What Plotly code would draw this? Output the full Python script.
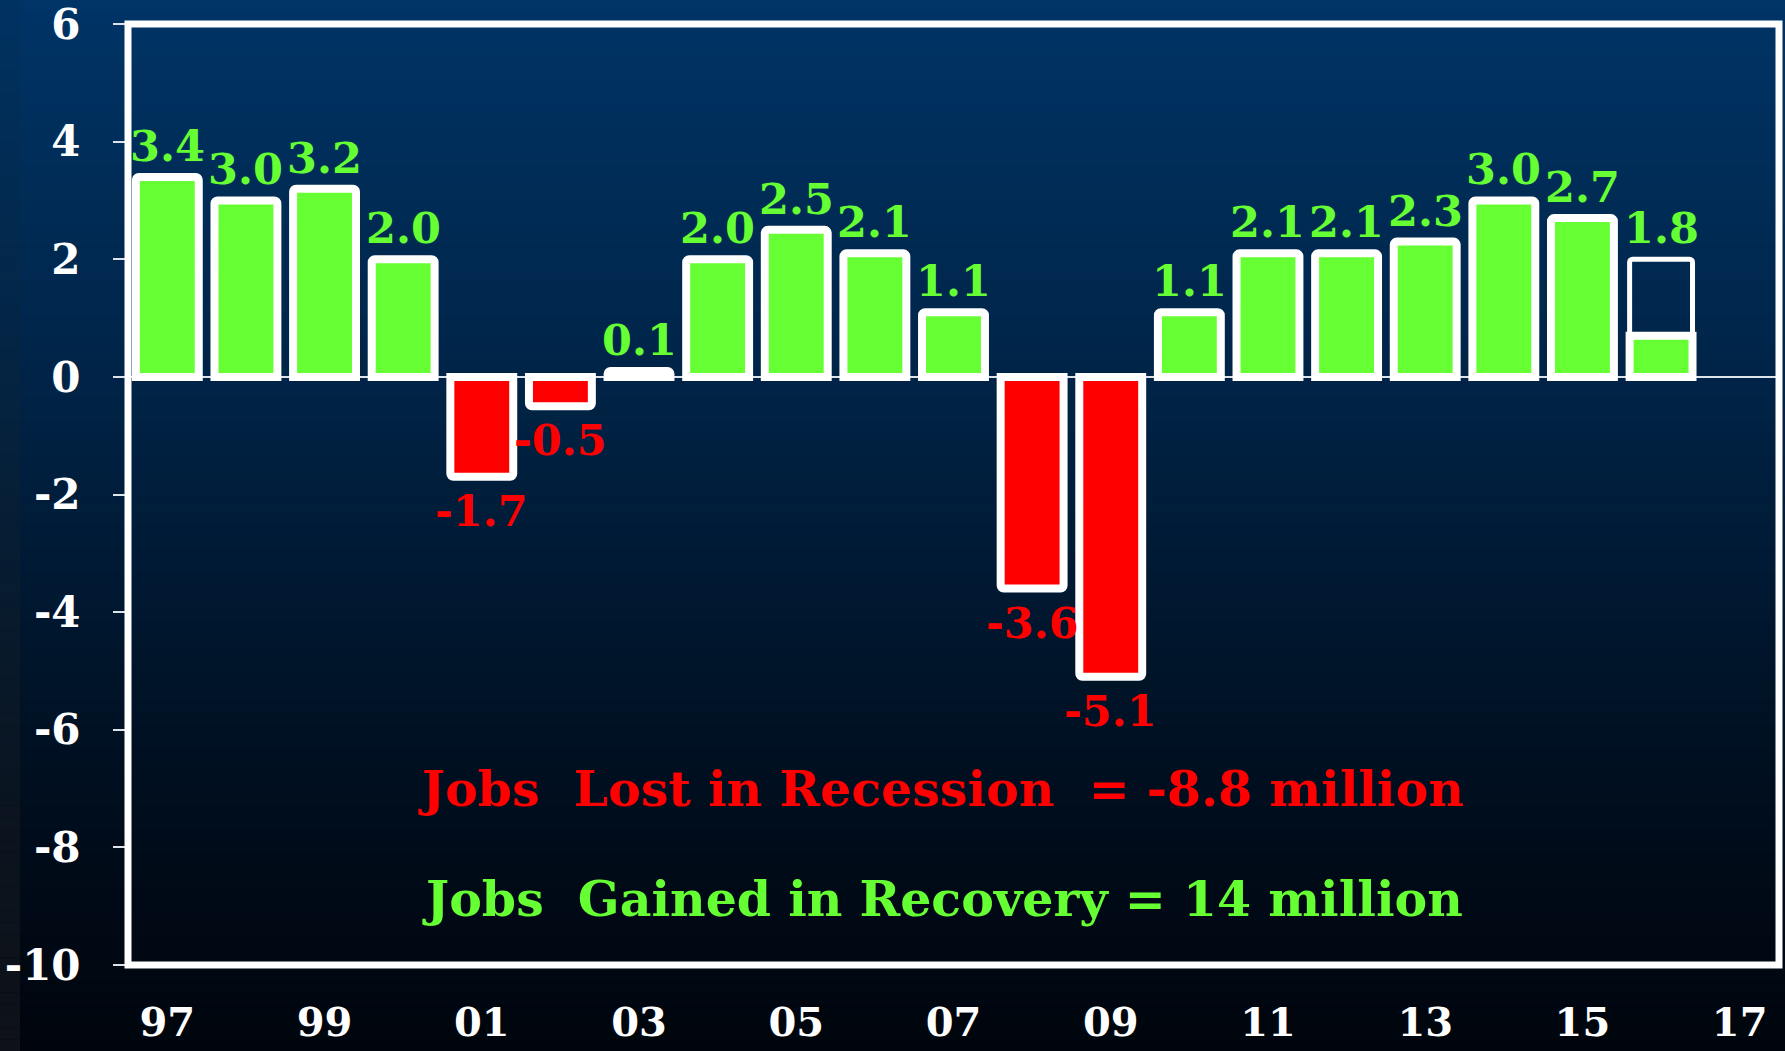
import plotly.graph_objects as go

# ---------------- data ----------------
years = list(range(1997, 2017))
job_change = [3.4, 3.0, 3.2, 2.0, -1.7, -0.5, 0.1, 2.0, 2.5, 2.1,
              1.1, -3.6, -5.1, 1.1, 2.1, 2.1, 2.3, 3.0, 2.7, 0.7]
value_labels = ["3.4", "3.0", "3.2", "2.0", "-1.7", "-0.5", "0.1", "2.0", "2.5", "2.1",
                "1.1", "-3.6", "-5.1", "1.1", "2.1", "2.1", "2.3", "3.0", "2.7", ""]
projection_year = [2016]
projection_value = [2.0]
projection_label = ["1.8"]

x_tick_vals = [1997, 1999, 2001, 2003, 2005, 2007, 2009, 2011, 2013, 2015, 2017]
x_tick_text = ["97", "99", "01", "03", "05", "07", "09", "11", "13", "15", "17"]
y_tick_vals = [6, 4, 2, 0, -2, -4, -6, -8, -10]
y_tick_text = ["6", "4", "2", "0", "-2", "-4", "-6", "-8", "-10"]

note_lost = "Jobs\u00a0 Lost in Recession\u00a0 = -8.8 million"
note_gained = "Jobs\u00a0 Gained in Recovery = 14 million"

# ---------------- style ----------------
GREEN = "#66FF33"
RED = "#FF0000"
WHITE = "#FFFFFF"
W, H = 1785, 1051
ML, MR, MT, MB = 128, 6, 24, 86
FONT = "DejaVu Serif"
LABEL_SIZE = 43

bar_colors = [GREEN if v >= 0 else RED for v in job_change]

fig = go.Figure()
fig.add_trace(go.Bar(
    x=years, y=job_change, width=0.8,
    marker=dict(color=bar_colors, line=dict(color=WHITE, width=8), cornerradius=3),
    hoverinfo="x+y", showlegend=False,
))
fig.add_trace(go.Bar(
    x=projection_year, y=projection_value, width=0.8,
    marker=dict(color="rgba(0,0,0,0)", line=dict(color=WHITE, width=5), cornerradius=3),
    showlegend=False,
))

# value labels
annotations = []
for yr, v, lab in zip(years, job_change, value_labels):
    if not lab:
        continue
    if v >= 0:
        annotations.append(dict(x=yr, y=v, text=lab, showarrow=False, xref="x", yref="y",
                                yanchor="bottom", yshift=4,
                                font=dict(family=FONT, size=LABEL_SIZE, color=GREEN, weight="bold")))
    else:
        annotations.append(dict(x=yr, y=v, text=lab, showarrow=False, xref="x", yref="y",
                                yanchor="top", yshift=-7,
                                font=dict(family=FONT, size=LABEL_SIZE, color=RED, weight="bold")))
for yr, v, lab in zip(projection_year, projection_value, projection_label):
    annotations.append(dict(x=yr, y=v, text=lab, showarrow=False, xref="x", yref="y",
                            yanchor="bottom", yshift=4,
                            font=dict(family=FONT, size=LABEL_SIZE, color=GREEN, weight="bold")))

plot_w = W - ML - MR
plot_h = H - MT - MB


def px_to_paper_x(px):
    return (px - ML) / plot_w


def px_to_paper_y(py):
    return (H - MB - py) / plot_h


annotations.append(dict(x=px_to_paper_x(941), y=px_to_paper_y(789), xref="paper", yref="paper",
                        text=note_lost, showarrow=False, xanchor="center", yanchor="middle",
                        font=dict(family=FONT, size=49, color=RED, weight="bold")))
annotations.append(dict(x=px_to_paper_x(942), y=px_to_paper_y(899), xref="paper", yref="paper",
                        text=note_gained, showarrow=False, xanchor="center", yanchor="middle",
                        font=dict(family=FONT, size=49, color=GREEN, weight="bold")))

# background gradient (styling only)
stops = [(0.0, (0, 52, 102)), (0.35, (0, 36, 72)), (0.6, (0, 22, 45)),
         (0.8, (0, 12, 26)), (1.0, (0, 5, 12))]
strip_stops = [(0.0, (0, 50, 98)), (0.35, (4, 36, 66)), (0.6, (8, 26, 44)),
               (0.8, (11, 19, 30)), (1.0, (14, 18, 24))]


def grad(stops_, t):
    for (t0, c0), (t1, c1) in zip(stops_[:-1], stops_[1:]):
        if t0 <= t <= t1:
            f = (t - t0) / (t1 - t0)
            return "rgb(%d,%d,%d)" % tuple(round(a + (b - a) * f) for a, b in zip(c0, c1))
    return "rgb(%d,%d,%d)" % stops_[-1][1]


shapes = []
N = 90
for i in range(N):
    y0 = H * i / N
    y1 = H * (i + 1) / N + 1
    t = (i + 0.5) / N
    shapes.append(dict(type="rect", xref="paper", yref="paper", layer="below",
                       x0=px_to_paper_x(0), x1=px_to_paper_x(W),
                       y0=px_to_paper_y(y1), y1=px_to_paper_y(y0),
                       fillcolor=grad(stops, t), line=dict(width=0)))
    shapes.append(dict(type="rect", xref="paper", yref="paper", layer="below",
                       x0=px_to_paper_x(0), x1=px_to_paper_x(20),
                       y0=px_to_paper_y(y1), y1=px_to_paper_y(y0),
                       fillcolor=grad(strip_stops, t), line=dict(width=0)))
# plot frame
shapes.append(dict(type="rect", xref="paper", yref="paper", layer="above",
                   x0=0, x1=1, y0=0, y1=1, line=dict(color=WHITE, width=7)))

fig.update_layout(
    width=W, height=H,
    autosize=False,
    margin=dict(l=ML, r=MR, t=MT, b=MB, pad=0, autoexpand=False),
    paper_bgcolor="rgb(0,5,12)",
    plot_bgcolor="rgba(0,0,0,0)",
    barmode="overlay",
    showlegend=False,
    shapes=shapes,
    annotations=annotations,
    xaxis=dict(range=[1996.5, 2017.5], tickvals=x_tick_vals, ticktext=x_tick_text,
               showgrid=False, zeroline=False, showline=False, ticks="",
               automargin=False, ticklabeloverflow="allow",
               ticklabelstandoff=30,
               tickfont=dict(family=FONT, size=40, color=WHITE, weight="bold")),
    yaxis=dict(range=[-10, 6], tickvals=y_tick_vals, ticktext=y_tick_text,
               showgrid=False, zeroline=True, zerolinecolor="#DDE3EA", zerolinewidth=2,
               showline=False, ticks="outside", ticklen=14, tickwidth=2, tickcolor="#DDE3EA",
               automargin=False, ticklabeloverflow="allow",
               ticklabelstandoff=24,
               tickfont=dict(family=FONT, size=42, color=WHITE, weight="bold")),
)

fig.write_html(
    "out.html",
    config={"displayModeBar": False},
    post_script="document.body.style.margin='0';document.body.style.overflow='hidden';",
)
